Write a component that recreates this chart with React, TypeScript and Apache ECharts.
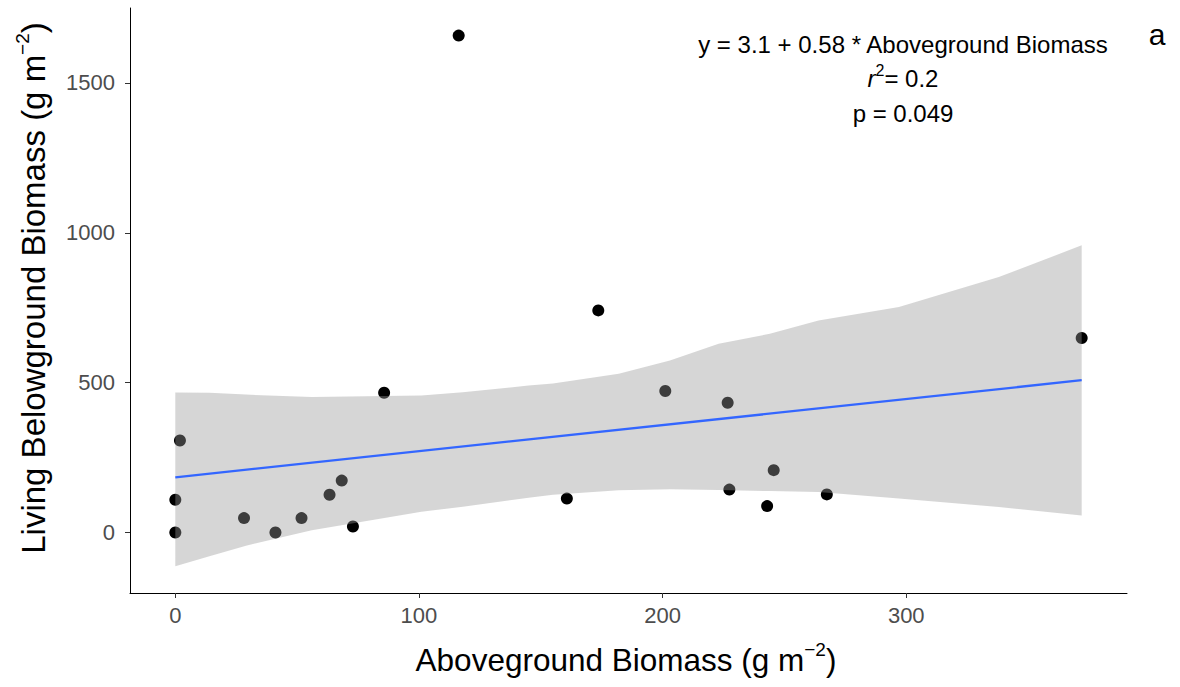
import React, { useEffect, useRef } from "react";
import * as echarts from "echarts";

// Scatter points (Aboveground vs Living Belowground biomass)
const pointX = [0, 0, 1.9, 28.2, 41.1, 51.8, 63.3, 68.3, 72.9, 85.7, 116.3, 160.7, 173.6, 201.1, 226.7, 227.4, 242.9, 245.6, 267.4, 372];
const pointY = [0, 109, 307, 48, 0, 48, 126, 173, 20, 466, 1658, 113, 741, 472, 433, 143, 88, 208, 127, 649];

// Fitted line
const fitX = [0, 372];
const fitY = [184, 508];

// Confidence band
const bandX = [0, 14, 29, 56, 101, 118, 145, 155, 182, 203, 223, 244, 264, 297, 338, 372];
const bandUpper = [467, 466, 460, 452, 457, 468, 490, 497, 530, 574, 630, 663, 707, 752, 852, 958];
const bandLower = [-113, -79, -44, 7, 69, 86, 116, 126, 141, 144, 142, 138, 135, 113, 85, 57];

const xTicks = [0, 100, 200, 300];
const yTicks = [0, 500, 1000, 1500];
const xRange = [-18.6, 390.6];
const yRange = [-202, 1750];

const FONT = "'Liberation Sans', Arial, Helvetica, sans-serif";

export default function App() {
  const ref = useRef<HTMLDivElement>(null);
  useEffect(() => {
    const chart = echarts.init(ref.current!, null, { renderer: "svg" });
    const scatterData = pointX.map((x, i) => [x, pointY[i]]);
    const fitData = fitX.map((x, i) => [x, fitY[i]]);
    const titleRich = (size: number) => ({
      a: { fontSize: size, fontFamily: FONT, fill: "#000", lineHeight: 40 },
      s: { fontSize: 19, fontFamily: FONT, fill: "#000", verticalAlign: "top", lineHeight: 19 },
    });
    chart.setOption({
      animation: false,
      backgroundColor: "#ffffff",
      grid: { left: 130, right: 53, top: 8, bottom: 94 },
      xAxis: {
        type: "value",
        min: xRange[0],
        max: xRange[1],
        splitLine: { show: false },
        axisLine: { onZero: false, lineStyle: { color: "#000", width: 1 } },
        axisTick: { customValues: xTicks, length: 5, lineStyle: { color: "#333", width: 1 } },
        axisLabel: {
          customValues: xTicks,
          color: "#4d4d4d",
          fontSize: 22,
          fontFamily: FONT,
          margin: 11,
          formatter: (v: number) => String(v),
        },
      },
      yAxis: {
        type: "value",
        min: yRange[0],
        max: yRange[1],
        splitLine: { show: false },
        axisLine: { onZero: false, lineStyle: { color: "#000", width: 1 } },
        axisTick: { customValues: yTicks, length: 5, lineStyle: { color: "#333", width: 1 } },
        axisLabel: {
          customValues: yTicks,
          color: "#4d4d4d",
          fontSize: 22,
          fontFamily: FONT,
          margin: 15,
          formatter: (v: number) => String(v),
        },
      },
      series: [
        {
          type: "scatter",
          data: scatterData,
          symbol: "circle",
          symbolSize: 12,
          itemStyle: { color: "#000000", opacity: 1 },
          z: 2,
          silent: true,
        },
        {
          type: "custom",
          z: 3,
          silent: true,
          data: [[0, 0]],
          renderItem: (params: any, api: any) => {
            const pts: number[][] = [];
            for (let i = 0; i < bandX.length; i++) pts.push(api.coord([bandX[i], bandUpper[i]]));
            for (let i = bandX.length - 1; i >= 0; i--) pts.push(api.coord([bandX[i], bandLower[i]]));
            return {
              type: "polygon",
              shape: { points: pts },
              style: { fill: "rgba(153,153,153,0.4)", stroke: "none" },
            };
          },
        },
        {
          type: "line",
          data: fitData,
          showSymbol: false,
          lineStyle: { color: "#3366FF", width: 2.3 },
          z: 4,
          silent: true,
        },
      ],
      graphic: [
        {
          type: "text",
          x: 626,
          y: 660,
          style: {
            text: "{a|Aboveground Biomass (g m}{s|−2}{a|)}",
            align: "center",
            verticalAlign: "middle",
            rich: titleRich(31.5),
          },
        },
        {
          type: "text",
          x: 33,
          y: 288,
          rotation: Math.PI / 2,
          style: {
            text: "{a|Living Belowground Biomass (g m}{s|−2}{a|)}",
            align: "center",
            verticalAlign: "middle",
            rich: titleRich(33),
          },
        },
        {
          type: "text",
          x: 903,
          y: 44,
          style: {
            text: "y = 3.1 + 0.58 * Aboveground Biomass",
            align: "center",
            verticalAlign: "middle",
            fontSize: 24,
            fontFamily: FONT,
            fill: "#000",
          },
        },
        {
          type: "text",
          x: 903,
          y: 78,
          style: {
            text: "{i|r}{s|2}{a|= 0.2}",
            align: "center",
            verticalAlign: "middle",
            rich: {
              i: { fontSize: 24, fontFamily: FONT, fontStyle: "italic", fill: "#000", lineHeight: 32 },
              s: { fontSize: 16, fontFamily: FONT, fill: "#000", verticalAlign: "top", lineHeight: 16 },
              a: { fontSize: 24, fontFamily: FONT, fill: "#000", lineHeight: 32 },
            },
          },
        },
        {
          type: "text",
          x: 903,
          y: 113,
          style: {
            text: "p = 0.049",
            align: "center",
            verticalAlign: "middle",
            fontSize: 24,
            fontFamily: FONT,
            fill: "#000",
          },
        },
        {
          type: "text",
          x: 1157,
          y: 34,
          style: {
            text: "a",
            align: "center",
            verticalAlign: "middle",
            fontSize: 30,
            fontFamily: FONT,
            fill: "#000",
          },
        },
      ],
    });
    return () => chart.dispose();
  }, []);
  return (
    <div
      ref={ref}
      style={{ position: "fixed", left: 0, top: 0, width: 1180, height: 687, background: "#fff" }}
    />
  );
}
